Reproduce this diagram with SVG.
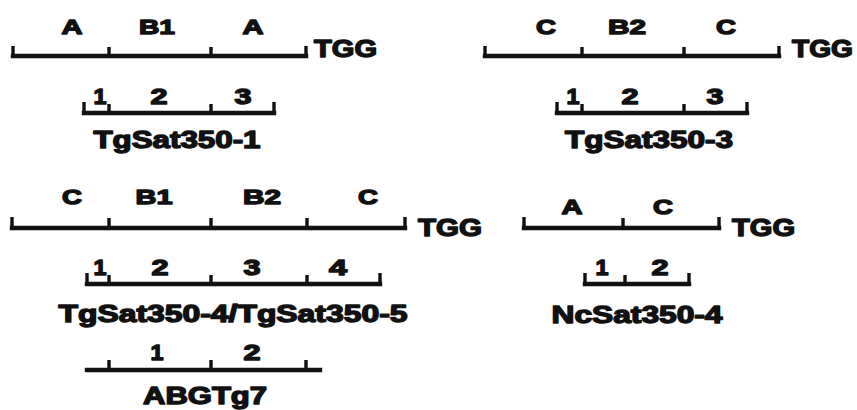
<svg xmlns="http://www.w3.org/2000/svg" width="857" height="410" viewBox="0 0 857 410">
  <style>
    .bar { fill: none; stroke: #111; stroke-width: 4.4; stroke-linecap: square; }
    .tick { fill: none; stroke: #111; stroke-width: 3.4; }
    text { font-family: "Liberation Sans", Arial, sans-serif; font-weight: bold; fill: #111; stroke: #111; stroke-width: 1.4; stroke-linejoin: round; }
    .seg { font-size: 21px; text-anchor: middle; }
    .num { font-size: 22px; text-anchor: middle; }
    .end { font-size: 24px; }
    .name { font-size: 24px; text-anchor: middle; }
  </style>
  <rect width="857" height="410" fill="#fff" stroke="none"/>

  <!-- TgSat350-1: A-B1-A repeat and its monomer map -->
  <g id="tgsat350-1">
    <text class="seg" x="72" y="34" textLength="21" lengthAdjust="spacingAndGlyphs">A</text>
    <text class="seg" x="157" y="34" textLength="36" lengthAdjust="spacingAndGlyphs">B1</text>
    <text class="seg" x="253" y="34" textLength="21" lengthAdjust="spacingAndGlyphs">A</text>
    <path class="bar" d="M13 56 H306"/>
    <path class="tick" d="M13 46 V57 M109 47 V57 M211 47 V57 M306 46 V57"/>
    <text class="end" x="314" y="57" textLength="63" lengthAdjust="spacingAndGlyphs">TGG</text>
    <text class="num" x="100" y="104" textLength="13" lengthAdjust="spacingAndGlyphs">1</text>
    <text class="num" x="159" y="104" textLength="17" lengthAdjust="spacingAndGlyphs">2</text>
    <text class="num" x="243" y="104" textLength="17" lengthAdjust="spacingAndGlyphs">3</text>
    <path class="bar" d="M84 113 H274"/>
    <path class="tick" d="M84 102 V114 M109 104 V114 M211 104 V114 M274 102 V114"/>
    <text class="name" x="177" y="148" textLength="167" lengthAdjust="spacingAndGlyphs">TgSat350-1</text>
  </g>

  <!-- TgSat350-3: C-B2-C repeat -->
  <g id="tgsat350-3">
    <text class="seg" x="546" y="34" textLength="20" lengthAdjust="spacingAndGlyphs">C</text>
    <text class="seg" x="627" y="34" textLength="38" lengthAdjust="spacingAndGlyphs">B2</text>
    <text class="seg" x="726" y="34" textLength="20" lengthAdjust="spacingAndGlyphs">C</text>
    <path class="bar" d="M485 56 H779"/>
    <path class="tick" d="M485 46 V57 M582 47 V57 M684 47 V57 M779 46 V57"/>
    <text class="end" x="792" y="57" textLength="61" lengthAdjust="spacingAndGlyphs">TGG</text>
    <text class="num" x="573" y="104" textLength="13" lengthAdjust="spacingAndGlyphs">1</text>
    <text class="num" x="630" y="104" textLength="17" lengthAdjust="spacingAndGlyphs">2</text>
    <text class="num" x="715" y="104" textLength="17" lengthAdjust="spacingAndGlyphs">3</text>
    <path class="bar" d="M557 113 H747"/>
    <path class="tick" d="M557 102 V114 M582 104 V114 M684 104 V114 M747 102 V114"/>
    <text class="name" x="649" y="148" textLength="168" lengthAdjust="spacingAndGlyphs">TgSat350-3</text>
  </g>

  <!-- TgSat350-4 / TgSat350-5: C-B1-B2-C repeat -->
  <g id="tgsat350-4-5">
    <text class="seg" x="72" y="204" textLength="20" lengthAdjust="spacingAndGlyphs">C</text>
    <text class="seg" x="154" y="204" textLength="37" lengthAdjust="spacingAndGlyphs">B1</text>
    <text class="seg" x="262" y="204" textLength="38" lengthAdjust="spacingAndGlyphs">B2</text>
    <text class="seg" x="368" y="204" textLength="20" lengthAdjust="spacingAndGlyphs">C</text>
    <path class="bar" d="M12 228 H405"/>
    <path class="tick" d="M12 217 V229 M109 218 V229 M211 218 V229 M307 218 V229 M405 217 V229"/>
    <text class="end" x="418" y="236" textLength="64" lengthAdjust="spacingAndGlyphs">TGG</text>
    <text class="num" x="100" y="275" textLength="13" lengthAdjust="spacingAndGlyphs">1</text>
    <text class="num" x="160" y="275" textLength="17" lengthAdjust="spacingAndGlyphs">2</text>
    <text class="num" x="252" y="275" textLength="17" lengthAdjust="spacingAndGlyphs">3</text>
    <text class="num" x="338" y="275" textLength="18" lengthAdjust="spacingAndGlyphs">4</text>
    <path class="bar" d="M87 284 H380"/>
    <path class="tick" d="M87 273 V285 M109 275 V285 M211 275 V285 M307 275 V285 M380 273 V285"/>
    <text class="name" x="233" y="322" textLength="349" lengthAdjust="spacingAndGlyphs">TgSat350-4/TgSat350-5</text>
  </g>

  <!-- ABGTg7 -->
  <g id="abgtg7">
    <text class="num" x="157" y="360" textLength="13" lengthAdjust="spacingAndGlyphs">1</text>
    <text class="num" x="252" y="360" textLength="17" lengthAdjust="spacingAndGlyphs">2</text>
    <path class="bar" d="M87 370 H320"/>
    <path class="tick" d="M109 360 V370 M211 360 V370 M306 360 V370"/>
    <text class="name" x="205" y="404" textLength="124" lengthAdjust="spacingAndGlyphs">ABGTg7</text>
  </g>

  <!-- NcSat350-4: A-C repeat -->
  <g id="ncsat350-4">
    <text class="seg" x="572" y="214" textLength="21" lengthAdjust="spacingAndGlyphs">A</text>
    <text class="seg" x="663" y="214" textLength="20" lengthAdjust="spacingAndGlyphs">C</text>
    <path class="bar" d="M524 228 H719"/>
    <path class="tick" d="M524 217 V229 M623 218 V229 M719 217 V229"/>
    <text class="end" x="732" y="236" textLength="63" lengthAdjust="spacingAndGlyphs">TGG</text>
    <text class="num" x="602" y="275" textLength="13" lengthAdjust="spacingAndGlyphs">1</text>
    <text class="num" x="660" y="275" textLength="17" lengthAdjust="spacingAndGlyphs">2</text>
    <path class="bar" d="M585 284 H689"/>
    <path class="tick" d="M585 273 V285 M625 275 V285 M689 273 V285"/>
    <text class="name" x="637" y="323" textLength="171" lengthAdjust="spacingAndGlyphs">NcSat350-4</text>
  </g>
</svg>
